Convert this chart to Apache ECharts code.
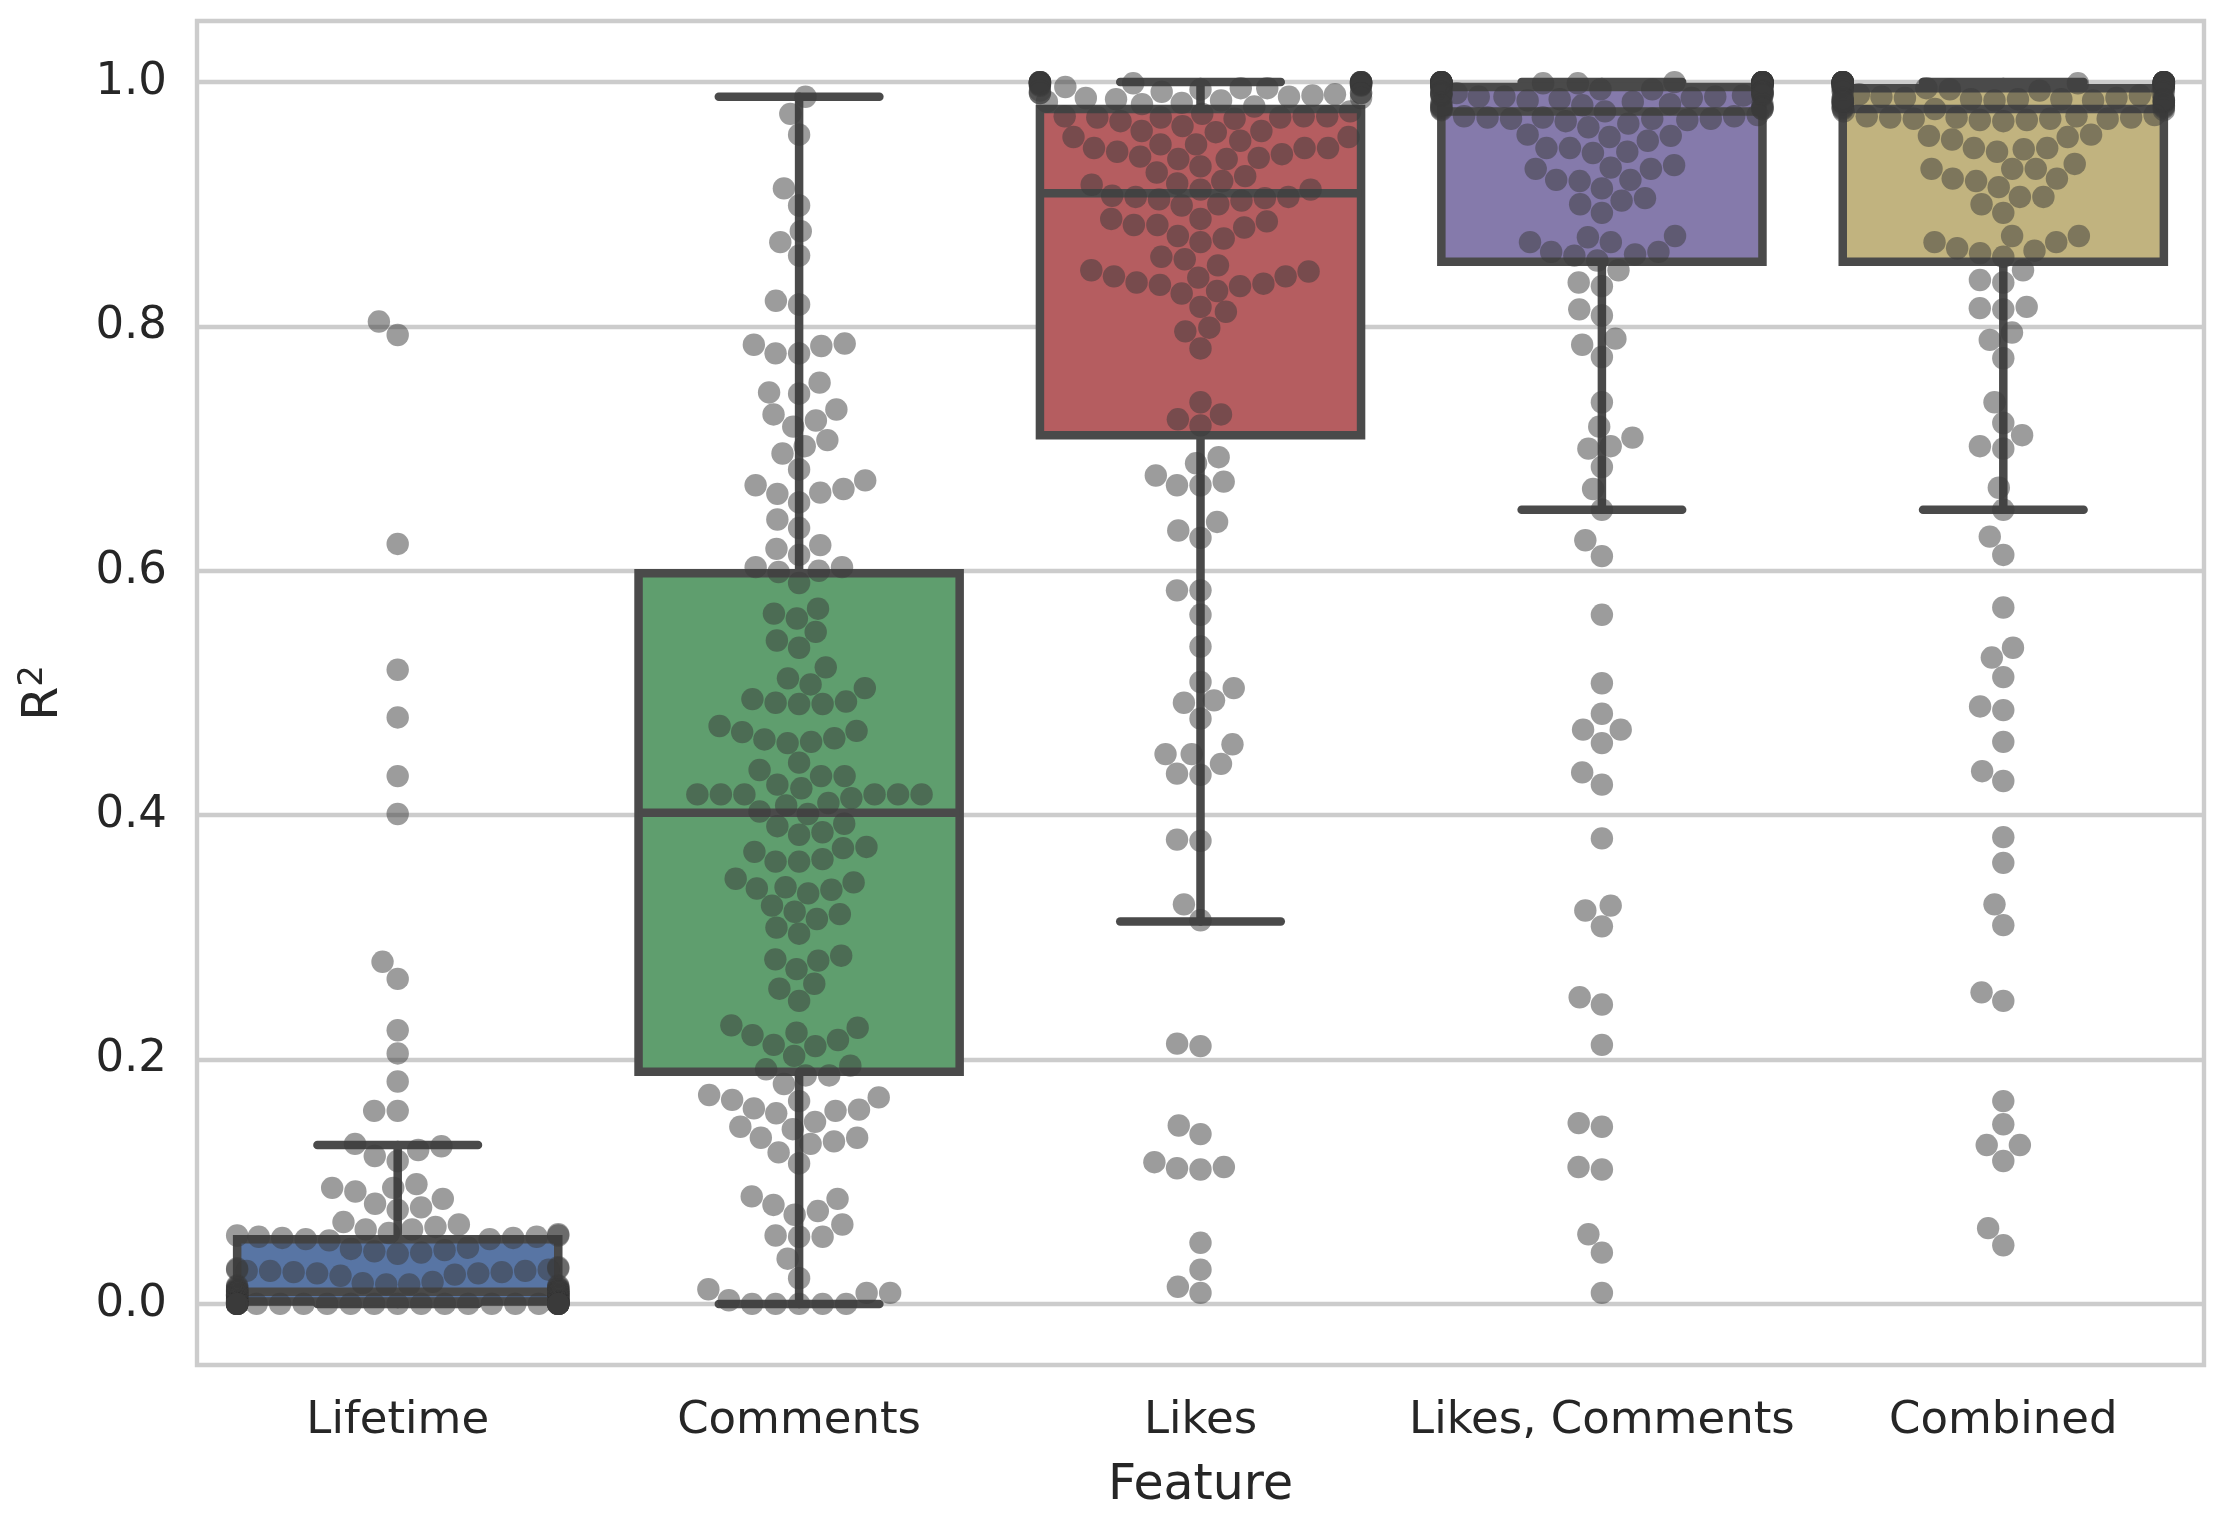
<!DOCTYPE html>
<html>
<head>
<meta charset="utf-8">
<title>R2 by feature</title>
<script src="https://cdn.jsdelivr.net/npm/echarts@6/dist/echarts.min.js"></script>
<style>
  html, body { margin: 0; padding: 0; background: #fff; }
  #main { width: 2233px; height: 1517px; }
</style>
</head>
<body>
<div id="main"></div>
<script>
// categories
const features = ['Lifetime', 'Comments', 'Likes', 'Likes, Comments', 'Combined'];
const yTicks = [0, 0.2, 0.4, 0.6, 0.8, 1.0];

// box stats: lower whisker, Q1, median, Q3, upper whisker
const lowerWhisker = [0.000, 0.000, 0.313, 0.650, 0.650];
const q1 = [0.002, 0.190, 0.711, 0.853, 0.853];
const median = [0.010, 0.402, 0.909, 0.976, 0.978];
const q3 = [0.053, 0.598, 0.978, 0.996, 0.995];
const upperWhisker = [0.130, 0.988, 1.000, 1.000, 1.000];

// swarm points (R^2 per sample)
const lifetimeR2 = [
  0.804, 0.793, 0.622, 0.519, 0.480, 0.432, 0.401, 0.280, 0.266, 0.224,
  0.205, 0.182, 0.158, 0.158, 0.131, 0.129, 0.126, 0.121, 0.117, 0.098,
  0.095, 0.095, 0.092, 0.086, 0.082, 0.079, 0.077, 0.067, 0.065, 0.063,
  0.061, 0.061, 0.058, 0.057, 0.056, 0.056, 0.055, 0.055, 0.054, 0.054,
  0.053, 0.053, 0.052, 0.046, 0.045, 0.044, 0.043, 0.042, 0.041, 0.030,
  0.029, 0.029, 0.028, 0.028, 0.027, 0.027, 0.027, 0.026, 0.026, 0.025,
  0.025, 0.024, 0.023, 0.018, 0.017, 0.016, 0.016, 0.015, 0.015, 0.014,
  0.014, 0.013, 0.013, 0.012, 0.012, 0.012, 0.011, 0.011, 0.011, 0.010,
  0.010, 0.010, 0.010, 0.010, 0.009, 0.009, 0.009, 0.009, 0.008, 0.008,
  0.008, 0.008, 0.007, 0.007, 0.007, 0.007, 0.006, 0.006, 0.006, 0.006,
  0.005, 0.005, 0.005, 0.005, 0.004, 0.004, 0.004, 0.004, 0.003, 0.003,
  0.003, 0.003, 0.002, 0.002, 0.002, 0.002, 0.002, 0.002, 0.002, 0.002,
  0.001, 0.001, 0.001, 0.001, 0.001, 0.001, 0.001, 0.001, 0.001, 0.001,
  0.000, 0.000, 0.000, 0.000, 0.000, 0.000, 0.000, 0.000, 0.000, 0.000,
  0.000, 0.000, 0.000, 0.000, 0.000, 0.000, 0.000, 0.000, 0.000, 0.000,
  0.000, 0.000, 0.000, 0.000, 0.000, 0.000, 0.000, 0.000, 0.000, 0.000
];

const commentsR2 = [
  0.988, 0.974, 0.957, 0.913, 0.899, 0.878, 0.869, 0.858, 0.821, 0.818,
  0.786, 0.785, 0.784, 0.778, 0.778, 0.754, 0.746, 0.745, 0.732, 0.728,
  0.723, 0.718, 0.707, 0.702, 0.696, 0.683, 0.674, 0.670, 0.667, 0.664,
  0.663, 0.656, 0.642, 0.635, 0.621, 0.618, 0.613,
  0.603, 0.603, 0.600, 0.599, 0.590, 0.569, 0.565, 0.561, 0.550, 0.543, 0.537,
  0.521, 0.512, 0.507, 0.504, 0.495, 0.493, 0.492, 0.491, 0.491,
  0.473, 0.469, 0.468, 0.463, 0.462, 0.460, 0.459,
  0.443, 0.437, 0.432, 0.432, 0.425, 0.422,
  0.417, 0.417, 0.417, 0.417, 0.417, 0.417, 0.414, 0.410, 0.408, 0.403, 0.401,
  0.393, 0.391, 0.386, 0.384, 0.374, 0.373, 0.370, 0.364, 0.362, 0.362,
  0.348, 0.345, 0.341, 0.340, 0.339, 0.336, 0.326, 0.321, 0.319, 0.315, 0.308, 0.303,
  0.285, 0.282, 0.281, 0.274, 0.262, 0.258, 0.248,
  0.228, 0.226, 0.222, 0.220, 0.216, 0.212, 0.211, 0.203, 0.195, 0.192,
  0.187, 0.187, 0.180, 0.171, 0.169, 0.167, 0.166, 0.160, 0.159, 0.158, 0.156,
  0.149, 0.145, 0.143, 0.136, 0.136, 0.133, 0.131, 0.124, 0.115,
  0.088, 0.086, 0.081, 0.076, 0.073, 0.065, 0.056, 0.055, 0.055, 0.037, 0.021,
  0.012, 0.009, 0.009, 0.003, 0.000, 0.000, 0.000, 0.000, 0.000
];

const likesR2 = [
  1.000, 1.000, 1.000, 1.000, 1.000, 1.000, 1.000, 1.000, 1.000, 1.000,
  1.000, 1.000, 0.999, 0.999, 0.999, 0.999, 0.998, 0.998, 0.998, 0.998,
  0.997, 0.996, 0.994, 0.993, 0.992, 0.990, 0.988, 0.985, 0.984,
  0.991, 0.991, 0.989, 0.995, 0.980, 0.991, 0.983, 0.995, 0.986, 0.998,
  0.987, 0.987, 0.997, 0.982, 0.991,
  0.976, 0.972, 0.971, 0.971, 0.970, 0.974, 0.972, 0.968, 0.971, 0.972,
  0.960, 0.952, 0.964, 0.955, 0.960, 0.959, 0.955,
  0.949, 0.946, 0.941, 0.938, 0.943, 0.937, 0.937, 0.946, 0.939, 0.946, 0.949,
  0.931, 0.923, 0.916, 0.919, 0.926,
  0.917, 0.907, 0.906, 0.912, 0.903, 0.899, 0.900, 0.904, 0.905, 0.906, 0.912,
  0.888, 0.883, 0.874, 0.886, 0.872, 0.869, 0.881, 0.883, 0.888,
  0.855, 0.850, 0.857,
  0.846, 0.841, 0.836, 0.834, 0.827, 0.841, 0.829, 0.833, 0.835, 0.840, 0.845,
  0.816, 0.812, 0.796, 0.799, 0.782,
  0.738, 0.728, 0.724, 0.719, 0.693, 0.688, 0.678, 0.670, 0.670, 0.673,
  0.640, 0.633, 0.627, 0.584, 0.584, 0.564, 0.538, 0.509, 0.504, 0.494,
  0.492, 0.479, 0.458, 0.450, 0.450, 0.442, 0.434, 0.433, 0.380, 0.379,
  0.327, 0.314, 0.213, 0.211, 0.146, 0.139, 0.116, 0.111, 0.110, 0.112,
  0.050, 0.028, 0.014, 0.009
];

const likesCommentsR2 = [
  1.000, 1.000, 1.000, 1.000, 1.000, 1.000, 1.000, 1.000, 1.000, 1.000,
  1.000, 1.000, 1.000, 1.000, 1.000, 1.000, 1.000, 1.000, 1.000, 1.000,
  0.999, 0.999, 0.999, 0.999, 0.999, 0.999, 0.999, 0.999, 0.998, 0.998,
  0.998, 0.998, 0.998, 0.998, 0.997, 0.997, 0.997, 0.997, 0.996, 0.996,
  0.995, 0.994, 0.994, 0.993, 0.992, 0.991, 0.990, 0.989, 0.988, 0.987,
  0.986, 0.985, 0.984, 0.983, 0.982, 0.981, 0.980, 0.979, 0.978, 0.978,
  0.977, 0.976,
  0.999,
  0.990, 0.991, 0.989, 0.992, 0.990, 0.988, 0.991, 0.989, 0.990, 0.992, 0.988,
  0.981, 0.979, 0.982, 0.980, 0.978,
  0.972, 0.970, 0.971, 0.969, 0.973, 0.970, 0.972, 0.968, 0.971, 0.970,
  0.966, 0.963, 0.955, 0.956,
  0.952, 0.946, 0.943, 0.932, 0.942, 0.946, 0.957,
  0.929, 0.920, 0.919, 0.913, 0.920, 0.929, 0.930,
  0.900, 0.893, 0.903, 0.905,
  0.869, 0.861, 0.859, 0.858, 0.861, 0.869, 0.874, 0.873,
  0.854, 0.846, 0.836, 0.833, 0.814, 0.809, 0.790, 0.785, 0.775, 0.738,
  0.718, 0.709, 0.702, 0.700, 0.685, 0.667, 0.650, 0.625, 0.612, 0.564,
  0.508, 0.483, 0.470, 0.470, 0.459, 0.435, 0.425, 0.381, 0.326, 0.322,
  0.309, 0.251, 0.245, 0.212, 0.148, 0.145, 0.112, 0.110, 0.057, 0.042,
  0.009
];

const combinedR2 = [
  1.000, 1.000, 1.000, 1.000, 1.000, 1.000, 1.000, 1.000, 1.000, 1.000,
  1.000, 1.000, 1.000, 1.000, 1.000, 1.000, 1.000, 1.000, 0.999, 0.999,
  0.999, 0.999, 0.999, 0.999, 0.999, 0.998, 0.998, 0.998, 0.998, 0.998,
  0.997, 0.997, 0.997, 0.997, 0.996, 0.996, 0.996,
  0.995, 0.995, 0.994, 0.994, 0.993, 0.992, 0.992, 0.991, 0.990, 0.989,
  0.988, 0.987, 0.986, 0.985, 0.984, 0.983, 0.983, 0.982, 0.981, 0.980,
  0.980, 0.979, 0.979, 0.978, 0.978, 0.977, 0.976,
  1.000, 0.999, 1.000,
  0.985, 0.986, 0.984, 0.987, 0.985, 0.986, 0.984, 0.985, 0.987, 0.986, 0.985, 0.984, 0.986,
  0.971, 0.969, 0.972, 0.970, 0.968, 0.971, 0.973, 0.970, 0.969, 0.972, 0.970, 0.971,
  0.956, 0.953, 0.945, 0.943, 0.946, 0.946, 0.955, 0.957,
  0.929, 0.921, 0.919, 0.914, 0.929, 0.929, 0.921, 0.933,
  0.900, 0.893, 0.906, 0.906,
  0.869, 0.862, 0.860, 0.857, 0.864, 0.869, 0.874, 0.874,
  0.846, 0.838, 0.836, 0.816, 0.815, 0.814, 0.795, 0.789, 0.774, 0.738,
  0.721, 0.711, 0.702, 0.700, 0.668, 0.650, 0.628, 0.613, 0.570, 0.537,
  0.529, 0.513, 0.489, 0.486, 0.460, 0.436, 0.428, 0.382, 0.361, 0.327,
  0.310, 0.255, 0.248, 0.166, 0.147, 0.130, 0.130, 0.117, 0.062, 0.048
];

const swarms = [lifetimeR2, commentsR2, likesR2, likesCommentsR2, combinedR2];
const boxColors = ['#5875a4', '#5f9e6e', '#b55d60', '#857aab', '#c1b37f'];
const edgeColor = '#4a4a4a';
const textColor = '#262626';
const dotSize = 22.4;

function renderBox(params, api) {
  const i = api.value(0);
  const bw = api.size([1, 0])[0] * 0.8;
  const x = api.coord([i, api.value(3)])[0];
  const yLo = api.coord([i, api.value(1)])[1];
  const yQ1 = api.coord([i, api.value(2)])[1];
  const yMed = api.coord([i, api.value(3)])[1];
  const yQ3 = api.coord([i, api.value(4)])[1];
  const yHi = api.coord([i, api.value(5)])[1];
  const lw = 8.5;
  const line = { stroke: edgeColor, lineWidth: lw, lineCap: 'round' };
  return {
    type: 'group',
    children: [
      { type: 'line', shape: { x1: x, y1: yQ1, x2: x, y2: yLo }, style: line },
      { type: 'line', shape: { x1: x, y1: yQ3, x2: x, y2: yHi }, style: line },
      { type: 'line', shape: { x1: x - bw / 4, y1: yLo, x2: x + bw / 4, y2: yLo }, style: line },
      { type: 'line', shape: { x1: x - bw / 4, y1: yHi, x2: x + bw / 4, y2: yHi }, style: line },
      { type: 'rect', shape: { x: x - bw / 2, y: yQ3, width: bw, height: yQ1 - yQ3 },
        style: { fill: boxColors[i], stroke: edgeColor, lineWidth: lw } },
      { type: 'line', shape: { x1: x - bw / 2, y1: yMed, x2: x + bw / 2, y2: yMed },
        style: { stroke: edgeColor, lineWidth: lw } }
    ]
  };
}

// seaborn style beeswarm, u = distance up from bottom in px
function beeswarm(us, d) {
  const idx = us.map((u, k) => k).sort((a, b) => us[a] - us[b]);
  const swarm = [];
  const off = new Array(us.length);
  idx.forEach(k => {
    const u = us[k];
    const neighbors = [];
    for (let j = swarm.length - 1; j >= 0; j--) {
      if (u - swarm[j][1] < d) neighbors.unshift(swarm[j]);
      else break;
    }
    const cands = [0];
    let leftFirst = true;
    neighbors.forEach(([xj, uj]) => {
      const dx = Math.sqrt(Math.max(d * d - (u - uj) * (u - uj), 0)) * 1.05;
      if (leftFirst) cands.push(xj - dx, xj + dx);
      else cands.push(xj + dx, xj - dx);
      leftFirst = !leftFirst;
    });
    const order = cands.map((c, n) => n)
      .sort((a, b) => Math.abs(cands[a]) - Math.abs(cands[b]) || a - b);
    let x = 0;
    for (const n of order) {
      const c = cands[n];
      if (neighbors.every(([xj, uj]) => (xj - c) * (xj - c) + (uj - u) * (uj - u) >= d * d * 0.9999)) {
        x = c;
        break;
      }
    }
    swarm.push([x, u]);
    off[k] = x;
  });
  return off;
}

const chart = echarts.init(document.getElementById('main'));

const option = {
  animation: false,
  backgroundColor: '#ffffff',
  textStyle: { fontFamily: 'DejaVu Sans', color: textColor },
  grid: {
    left: 197, right: 29, top: 21, bottom: 152,
    show: true, borderColor: '#cccccc', borderWidth: 4.4
  },
  xAxis: [
    {
      type: 'category',
      data: features,
      name: 'Feature',
      nameLocation: 'middle',
      nameGap: 97,
      nameTextStyle: { fontSize: 49, color: textColor, fontFamily: 'DejaVu Sans' },
      axisLine: { show: false },
      axisTick: { show: false },
      axisLabel: { interval: 0, fontSize: 45, color: textColor, margin: 34, fontFamily: 'DejaVu Sans' },
      splitLine: { show: false }
    },
    {
      type: 'value', min: -0.5, max: 4.5, show: false,
      splitLine: { show: false }
    }
  ],
  yAxis: {
    type: 'value',
    min: -0.05,
    max: 1.05,
    name: '{r|R}{s|2}',
    nameLocation: 'middle',
    nameGap: 125,
    nameTextStyle: {
      fontSize: 49, color: textColor, fontFamily: 'DejaVu Sans',
      rich: {
        r: { fontSize: 49, color: textColor, fontFamily: 'DejaVu Sans', lineHeight: 56 },
        s: { fontSize: 34, color: textColor, fontFamily: 'DejaVu Sans', verticalAlign: 'top', lineHeight: 56 }
      }
    },
    axisLine: { show: false },
    axisTick: { show: false, customValues: yTicks },
    axisLabel: {
      customValues: yTicks,
      fontSize: 45, color: textColor, margin: 30, fontFamily: 'DejaVu Sans',
      formatter: v => v.toFixed(1)
    },
    splitLine: { show: true, lineStyle: { color: '#cccccc', width: 4.4 } }
  },
  series: [
    {
      type: 'custom',
      xAxisIndex: 0,
      yAxisIndex: 0,
      renderItem: renderBox,
      clip: false,
      z: 2,
      encode: { x: 0, y: [1, 2, 3, 4, 5] },
      data: features.map((f, i) => [i, lowerWhisker[i], q1[i], median[i], q3[i], upperWhisker[i]])
    },
    {
      type: 'scatter',
      xAxisIndex: 1,
      yAxisIndex: 0,
      symbolSize: dotSize,
      z: 3,
      itemStyle: { color: '#393939', opacity: 0.5 },
      data: []
    }
  ]
};

chart.setOption(option);

// lay out the swarm in pixel space, then map back to data
const dots = [];
swarms.forEach((vals, i) => {
  const cx = chart.convertToPixel({ xAxisIndex: 1 }, i);
  const halfW = chart.convertToPixel({ xAxisIndex: 1 }, i + 0.4) - cx;
  const us = vals.map(v => -chart.convertToPixel({ yAxisIndex: 0 }, v));
  const offs = beeswarm(us, dotSize);
  vals.forEach((v, k) => {
    const o = Math.max(-halfW, Math.min(halfW, offs[k]));
    dots.push([chart.convertFromPixel({ xAxisIndex: 1 }, cx + o), v]);
  });
});

chart.setOption({ series: [{}, { data: dots }] });
window.onresize = function () { chart.resize(); };
</script>
</body>
</html>
